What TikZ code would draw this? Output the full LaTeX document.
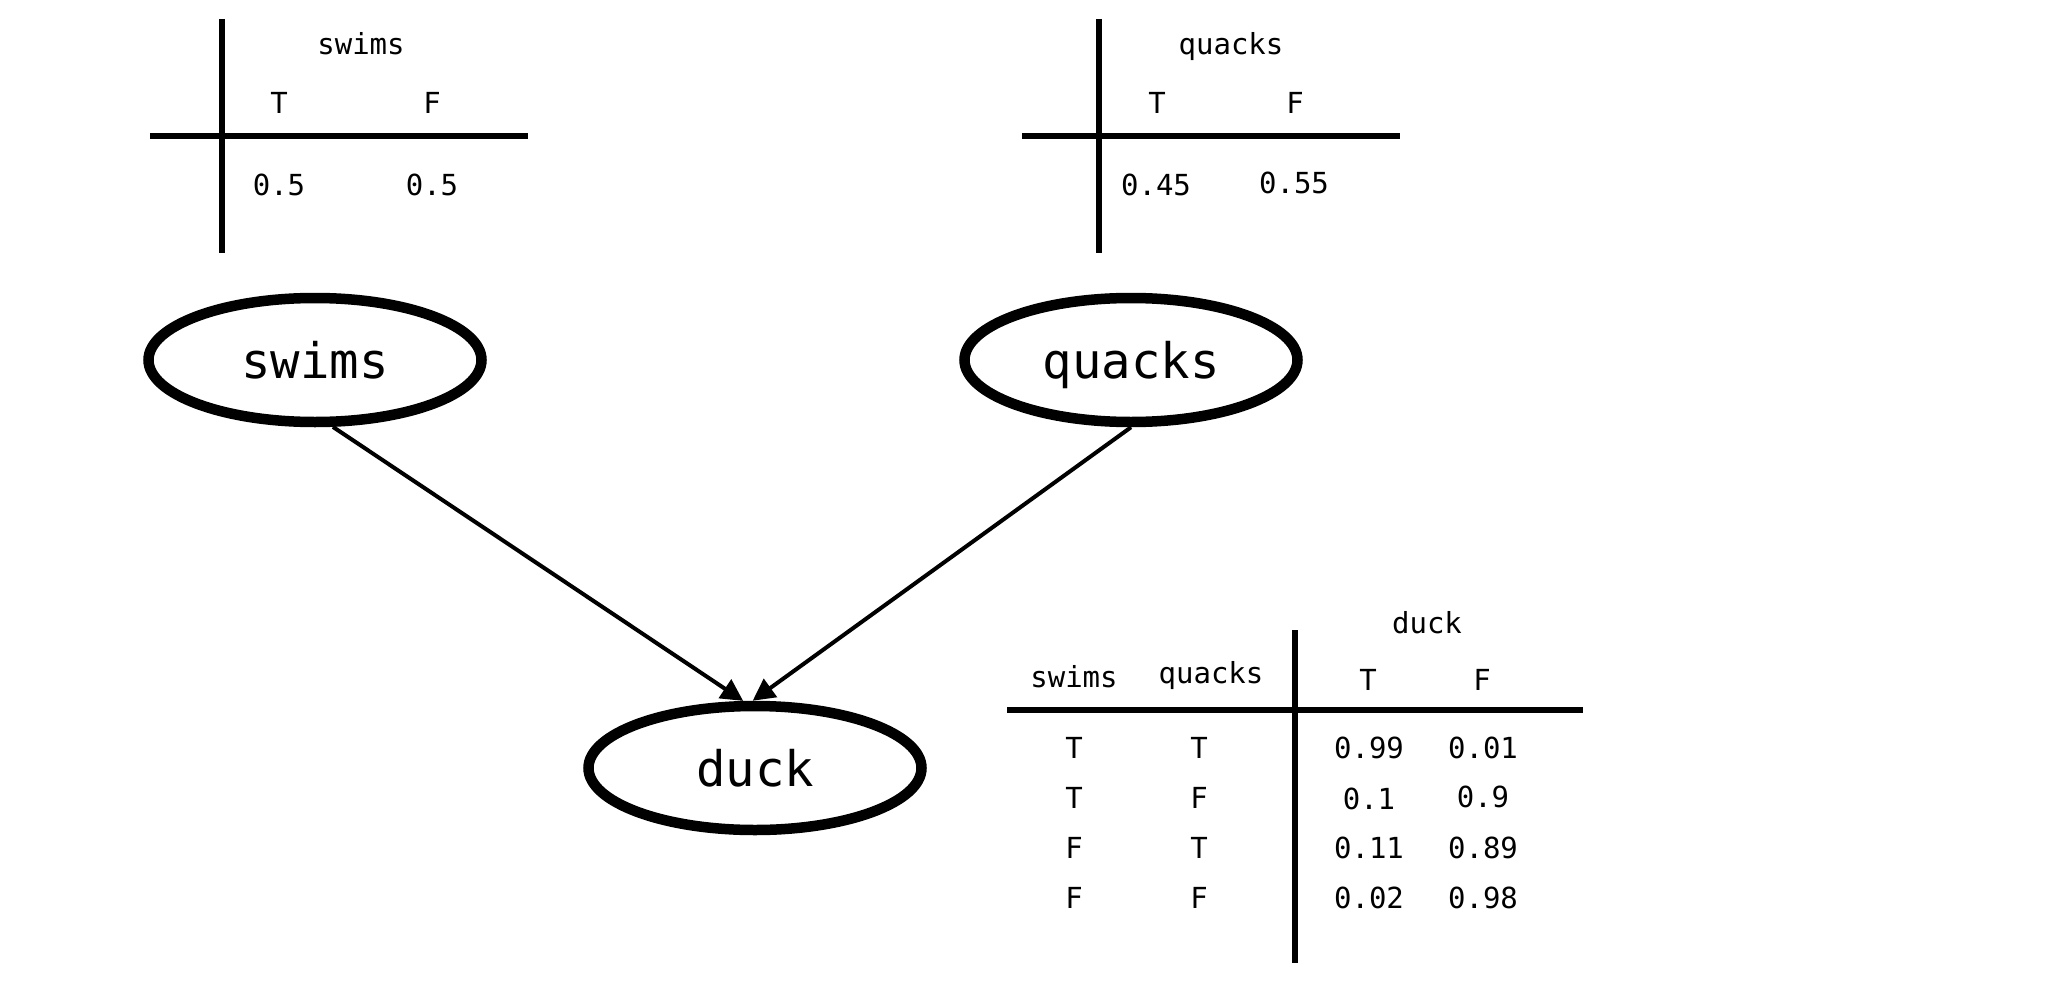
\documentclass[tikz,border=0pt]{standalone}
\usepackage{fontspec}
\newfontfamily\dmono{DejaVu Sans Mono}
\usetikzlibrary{shapes.geometric,arrows.meta}
\begin{document}
\begin{tikzpicture}[x=1pt,y=-1pt,
  var/.style={ellipse,draw,line width=10.5pt,minimum width=333pt,minimum height=124pt,
    inner sep=0pt,text height=37pt,text depth=0pt,font=\dmono\fontsize{49}{55}\selectfont},
  cell/.style={anchor=base,inner sep=0pt,font=\dmono\fontsize{29}{33}\selectfont},
  rule/.style={line width=5.5pt},
  edge/.style={line width=4pt,-{Triangle[length=22pt,width=22pt]}}]
\useasboundingbox[fill=white] (0,0) rectangle (2048,982);

% nodes
\node[var] (swims) at (315,360) {swims};
\node[var] (quacks) at (1131,360) {quacks};
\node[var] (duck) at (755,768) {duck};

\draw[edge] (swims.-75) -- (duck.100);
\draw[edge] (quacks.-90) -- (duck.92);

% swims table
\draw[rule] (222,19) -- (222,253);
\draw[rule] (150,136) -- (528,136);
\node[cell] (st-title) at (361,55) {swims};
\node[cell] (st-T) at (279,113) {T};
\node[cell] (st-F) at (432,113) {F};
\node[cell] (st-vT) at (279,195) {0.5};
\node[cell] (st-vF) at (432,195) {0.5};

% quacks table
\draw[rule] (1099,19) -- (1099,253);
\draw[rule] (1022,136) -- (1400,136);
\node[cell] (qt-title) at (1231,55) {quacks};
\node[cell] (qt-T) at (1157,113) {T};
\node[cell] (qt-F) at (1295,113) {F};
\node[cell] (qt-vT) at (1156,195) {0.45};
\node[cell] (qt-vF) at (1294,193) {0.55};

% duck table
\draw[rule] (1295,630) -- (1295,963);
\draw[rule] (1007,710) -- (1583,710);
\node[cell] (dt-title) at (1427,633) {duck};
\node[cell] (dt-hs) at (1074,687) {swims};
\node[cell] (dt-hq) at (1211,683) {quacks};
\node[cell] (dt-hT) at (1368,690) {T};
\node[cell] (dt-hF) at (1482,690) {F};

\node[cell] (r1s) at (1074,758) {T};
\node[cell] (r1q) at (1199,758) {T};
\node[cell] (r1T) at (1369,758) {0.99};
\node[cell] (r1F) at (1483,758) {0.01};

\node[cell] (r2s) at (1074,808) {T};
\node[cell] (r2q) at (1199,808) {F};
\node[cell] (r2T) at (1369,809) {0.1};
\node[cell] (r2F) at (1483,807) {0.9};

\node[cell] (r3s) at (1074,858) {F};
\node[cell] (r3q) at (1199,858) {T};
\node[cell] (r3T) at (1369,858) {0.11};
\node[cell] (r3F) at (1483,858) {0.89};

\node[cell] (r4s) at (1074,908) {F};
\node[cell] (r4q) at (1199,908) {F};
\node[cell] (r4T) at (1369,908) {0.02};
\node[cell] (r4F) at (1483,908) {0.98};
\end{tikzpicture}
\end{document}
